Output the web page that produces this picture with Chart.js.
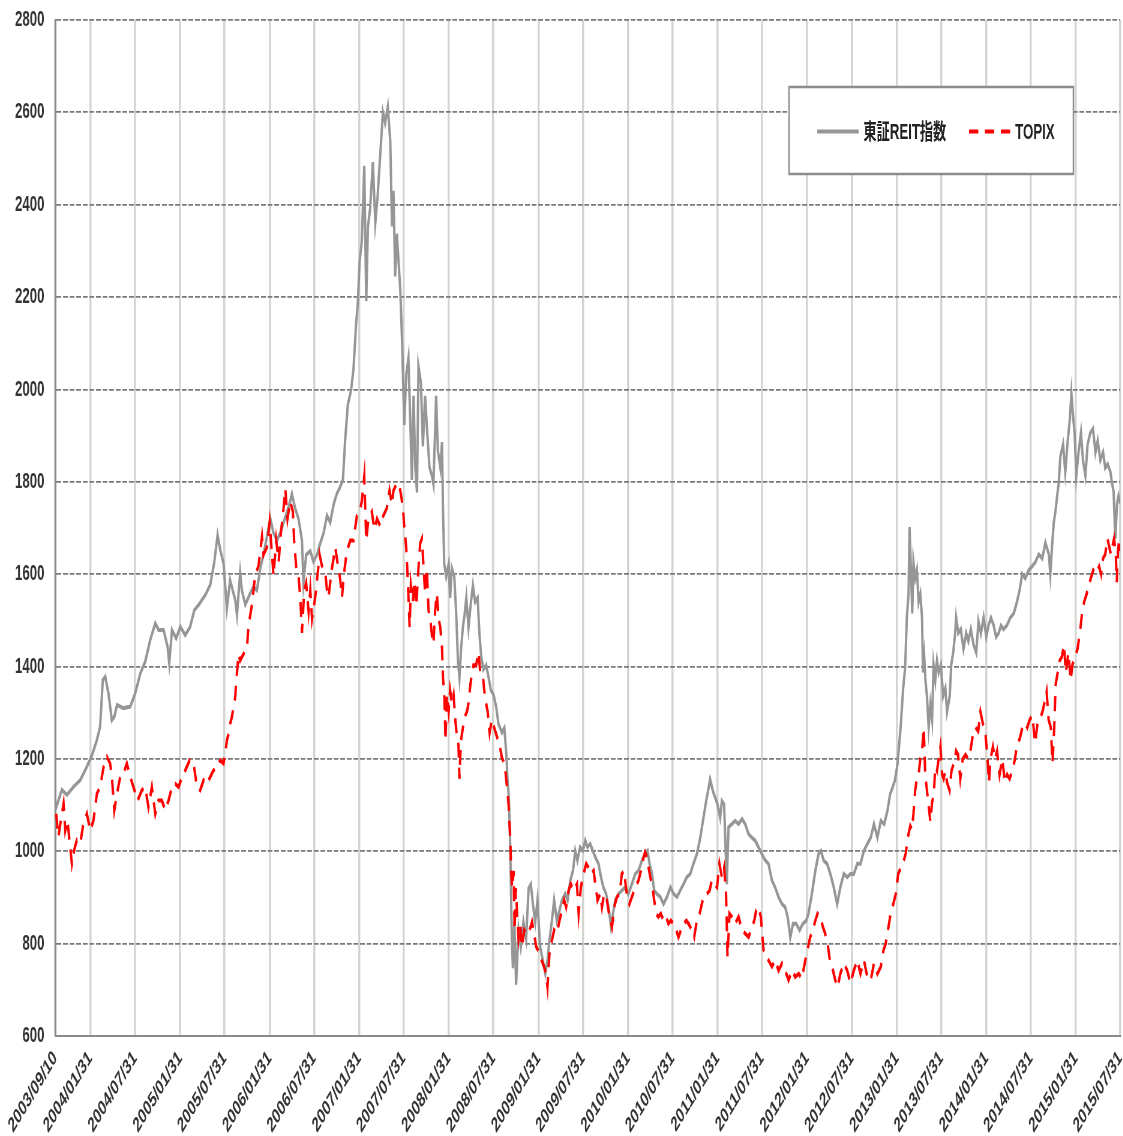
<!DOCTYPE html>
<html>
<head>
<meta charset="utf-8">
<style>
html,body{margin:0;padding:0;background:#fff;overflow:hidden;width:1123px;height:1136px;}
#wrap{position:absolute;left:0;top:0;width:1872px;height:1136px;transform:scaleX(0.6);transform-origin:0 0;}
</style>
<script src="https://cdn.jsdelivr.net/npm/chart.js@4.4.0/dist/chart.umd.min.js"></script>
</head>
<body>
<div id="wrap"><canvas id="c"></canvas></div>
<script>
// Tick labels (dates) on the x axis
const tickDates = ['2003/09/10','2004/01/31','2004/07/31','2005/01/31','2005/07/31','2006/01/31','2006/07/31','2007/01/31','2007/07/31','2008/01/31','2008/07/31','2009/01/31','2009/07/31','2010/01/31','2010/07/31','2011/01/31','2011/07/31','2012/01/31','2012/07/31','2013/01/31','2013/07/31','2014/01/31','2014/07/31','2015/01/31','2015/07/31'];

const seriesNames = ['東証REIT指数', 'TOPIX'];

// 東証REIT指数: days after 2003/09/10, index values
const reitDays = [0,27,48,75,102,129,150,170,183,194,204,217,231,241,252,278,306,326,347,367,387,408,421,442,458,465,476,493,510,530,550,567,584,612,632,648,662,673,686,700,713,734,741,754,
761,775,788,808,822,836,849,863,877,890,904,917,931,945,958,965,978,992,1006,1012,1023,1040,1053,1067,1080,1094,1108,1121,1135,1148,1162,1173,1182,1193,1206,1216,1227,1234,1241,1250,1260,1268,1275,1284,1295,1305,1314,1325,1336,1345,1356,1366,1373,1379,1386,1393,1407,1414,
1423,1431,1440,1447,1454,1461,1468,1475,1481,1491,1499,1508,1518,1526,1536,1542,1553,1560,1570,1577,1581,1586,1594,1604,1610,1617,1627,1635,1642,1648,1655,1662,1669,1676,1685,1695,1703,1712,1722,1730,1737,1746,1757,1767,1776,1787,1798,1807,1821,1831,1839,1844,1850,1855,1858,1862,1866,1872,1879,1889,1898,1909,1920,1930,1939,1948,1957,1966,
1977,1988,1998,2007,2015,2025,2034,2045,2056,2066,2079,2089,2100,2111,2120,2129,2140,2151,2161,2170,2181,2192,2202,2215,2225,2235,2246,2256,2266,2274,2283,2297,2310,2324,2337,2351,2365,2378,2392,2405,2415,2423,2433,2442,2453,2467,2480,2494,2508,2521,2535,2548,2562,2575,2589,2602,2616,2630,2643,2654,2664,2670,2681,2690,2700,2711,2718,2727,2738,2745,2759,2772,2786,2800,2813,2827,2840,2854,2867,
2881,2895,2908,2922,2935,2949,2963,2976,2986,2997,3008,3021,3035,3048,3062,3071,3085,3099,3112,3122,3133,3147,3160,3174,3188,3201,3215,3229,3242,3256,3270,3283,3297,3311,3325,3338,3352,3366,3380,3393,3404,3414,3423,3434,
3448,3457,3465,3472,3479,3483,3489,3494,3499,3506,3513,3520,3527,3534,3538,3543,3548,3554,3561,3568,3575,3581,3588,3595,3602,3611,3620,3629,3636,3647,3653,3661,3669,3673,3682,3692,3703,3714,3723,3733,3744,3755,3764,3774,3785,3796,3805,3815,3826,3836,3846,3856,3866,3880,3894,3908,3921,3932,3942,3955,3969,3983,3996,4010,4024,4037,4051,4057,4064,4071,4078,4085,4091,4098,4109,4118,4128,4136,4143,4150,4156,4163,4172,4182,4190,4200,4209,4220,4231,4241,4250,4261,4272,4281,4291,4302,4309,4315,4322,4329,4335,4342];
const reitValues = [1089,1133,1122,1140,1154,1183,1208,1241,1270,1371,1378,1342,1284,1291,1317,1310,1313,1342,1385,1411,1457,1494,1479,1479,1443,1407,1479,1461,1486,1468,1486,1522,1533,1555,1577,1624,1685,1652,1624,1526,1587,1544,1512,1603,
1565,1534,1550,1573,1565,1612,1642,1681,1720,1689,1673,1689,1712,1735,1758,1774,1743,1720,1673,1581,1642,1650,1627,1642,1666,1689,1727,1712,1751,1774,1789,1805,1890,1967,1998,2044,2144,2191,2276,2322,2484,2191,2353,2392,2492,2361,2415,2507,2600,2577,2612,2538,2353,2430,2245,2337,2214,2106,
1923,2032,2068,1941,1804,1986,1831,1777,2050,2014,1877,1986,1895,1831,1813,1795,1986,1868,1831,1886,1740,1622,1595,1622,1549,1613,1595,1513,1412,1376,1440,1485,1513,1549,1485,1540,1576,1540,1549,1467,1421,1394,1403,1376,1349,1339,1312,1276,1257,1267,1212,1157,1112,1011,920,802,747,847,711,829,793,847,811,920,929,884,847,893,
793,764,735,764,807,850,894,850,872,894,908,894,937,958,1001,980,1009,1001,1023,1009,1016,1001,987,973,944,922,908,879,836,865,894,908,915,922,908,929,951,958,980,994,1001,973,951,915,908,901,886,901,922,908,901,915,929,944,951,973,994,1030,1073,1109,1138,1156,1131,1117,1102,1073,1109,1102,929,1052,1059,1066,1059,1070,1059,1037,1030,1023,1009,
994,980,973,937,922,901,886,879,858,814,843,843,829,843,850,865,908,958,994,1001,980,973,951,922,886,922,951,944,951,951,973,973,1001,1016,1030,1059,1030,1066,1059,1088,1124,1138,1153,1188,
1277,1353,1396,1506,1557,1702,1609,1515,1626,1591,1609,1540,1557,1506,1387,1421,1370,1336,1268,1319,1285,1404,1370,1413,1387,1404,1336,1353,1302,1336,1404,1430,1472,1506,1472,1481,1438,1472,1455,1481,1447,1430,1498,1472,1506,1464,1489,1506,1489,1464,1472,1489,1481,1489,1506,1515,1540,1566,1600,1591,1609,1617,1626,1643,1634,1668,1643,1600,1660,1711,1736,1770,1796,1855,1881,1821,1889,1932,1991,1940,1906,1813,1864,1906,1847,1813,1881,1906,1915,1864,1889,1847,1864,1830,1838,1821,1796,1779,1677,1753,1770,1753];

// TOPIX: days after 2003/09/10, index values
const topixDays = [4,13,23,34,41,50,58,68,77,88,102,115,129,143,156,170,183,197,211,224,231,241,252,265,278,292,306,319,336,353,367,380,394,408,421,435,448,462,476,489,503,517,530,548,564,578,591,605,618,632,645,659,673,686,693,700,707,713,720,727,734,738,743,747,754,
782,788,802,815,829,843,849,863,874,884,890,901,911,920,931,938,947,958,969,974,983,992,999,1006,1015,1023,1033,1040,1047,1060,1069,1078,1087,1101,1108,1114,1128,1142,1148,1162,1169,1178,1189,1203,1216,1230,1241,1250,1260,1268,1277,1291,1301,1312,1325,1338,1352,1363,1373,1379,1393,1404,
1411,1418,1423,1431,1437,1445,1450,1458,1464,1472,1481,1488,1495,1502,1508,1515,1522,1529,1536,1542,1549,1556,1563,1570,1577,1581,1587,1591,1597,1604,1610,1617,1624,1631,1638,1644,1648,1654,1662,1672,1679,1685,1692,1699,1705,1716,1726,1733,1744,1753,1763,1771,1780,1790,1801,1812,1821,1828,1835,1842,1848,1855,1859,1863,1869,1873,1878,1883,1889,1896,1903,1912,1923,1934,1944,1953,1961,1970,
1983,1993,2001,2007,2015,2025,2034,2045,2056,2066,2075,2083,2093,2102,2113,2127,2134,2143,2154,2165,2174,2184,2195,2202,2211,2222,2229,2238,2249,2260,2270,2279,2290,2301,2310,2319,2330,2341,2351,2365,2378,2388,2399,2405,2412,2419,2426,2433,2442,2450,2459,2469,2480,2491,2500,2510,2521,2532,2541,2551,2562,2573,2582,2596,2605,2616,2627,
2643,2657,2668,2677,2686,2698,2708,2718,2727,2735,2741,2749,2759,2772,2786,2800,2813,2827,2840,2850,2858,2867,2877,2882,2888,2899,2908,2922,2935,2949,2963,2976,2990,3004,3017,3031,3044,3058,3067,3078,3089,3099,3108,3119,3130,3139,3149,3160,3171,3180,3190,3201,3215,3229,3242,3256,3270,3283,3297,3311,3325,3338,3352,3366,3377,3386,3395,3406,3417,3427,3437,
3459,3468,3476,3486,3493,3499,3506,3513,3520,3527,3534,3541,3547,3554,3561,3568,3575,3582,3588,3595,3602,3609,3616,3622,3629,3636,3646,3654,3664,3673,3681,3690,3700,3711,3722,3731,3741,3752,3763,3772,3782,3793,3800,3807,3813,3823,3831,3840,3850,3861,3872,3881,3891,3902,3913,3922,3932,3943,3954,3963,3973,3984,3995,4005,4014,4025,4036,4042,4050,4059,4066,4073,4079,4087,4095,4104,4113,4120,4131,4140,4147,4158,4168,4175,4181,4188,4195,4205,4213,4222,4232,4240,4249,4256,4264,4272,4281,4290,4297,4304,4310,4317,4324,4328,4333,4338,4342];
const topixValues = [1081,1031,1067,1103,1045,1067,1024,973,1002,1024,1017,1060,1081,1045,1067,1125,1139,1182,1204,1190,1161,1089,1125,1161,1168,1190,1161,1139,1110,1132,1139,1096,1139,1081,1110,1110,1089,1110,1139,1146,1139,1161,1175,1197,1190,1139,1132,1154,1146,1161,1175,1182,1197,1190,1211,1240,1254,1276,1290,1312,1334,1370,1398,1427,1413,
1442,1488,1534,1596,1619,1681,1642,1658,1712,1642,1596,1673,1627,1689,1743,1785,1720,1758,1735,1673,1612,1596,1550,1473,1565,1581,1519,1565,1503,1550,1596,1642,1619,1604,1565,1550,1612,1658,1635,1588,1550,1604,1650,1673,1673,1727,1735,1758,1812,1673,1720,1735,1697,1720,1704,1727,1743,1781,1751,1781,1797,1789,
1768,1740,1704,1658,1595,1485,1576,1540,1585,1531,1613,1667,1677,1613,1558,1613,1522,1503,1467,1449,1522,1558,1503,1485,1440,1376,1330,1239,1339,1303,1348,1321,1339,1285,1248,1230,1157,1239,1267,1294,1303,1321,1358,1385,1403,1403,1431,1385,1376,1330,1303,1257,1285,1267,1248,1230,1203,1194,1175,1139,1103,1030,957,920,957,829,920,866,811,838,793,829,820,829,847,820,793,784,
764,750,735,706,778,807,829,822,850,872,894,879,915,929,915,929,865,922,951,973,965,951,958,929,894,908,879,908,894,858,836,879,901,908,951,958,908,886,901,922,937,958,987,998,987,965,944,929,894,865,858,865,850,858,843,850,843,829,814,829,843,850,843,829,814,850,865,
901,908,915,937,929,922,973,944,965,908,771,865,858,843,858,829,822,814,836,850,872,879,858,822,786,771,764,750,764,742,757,742,721,742,728,735,724,764,786,814,829,850,865,858,836,822,800,757,742,721,706,735,757,742,714,742,764,735,764,728,721,757,735,750,786,800,829,865,886,908,951,
979,996,1030,1055,1047,1081,1132,1157,1166,1200,1217,1268,1166,1132,1098,1064,1106,1123,1183,1174,1200,1226,1166,1157,1174,1149,1132,1174,1191,1217,1209,1157,1200,1209,1200,1217,1251,1268,1260,1302,1277,1251,1209,1149,1200,1226,1200,1217,1166,1200,1149,1166,1157,1174,1200,1234,1243,1268,1277,1268,1285,1294,1234,1277,1285,1302,1328,1345,1285,1268,1191,1268,1362,1387,1413,1421,1447,1387,1430,1370,1404,1421,1438,1464,1489,1523,1540,1557,1574,1591,1609,1617,1609,1617,1600,1634,1643,1677,1660,1643,1660,1677,1643,1583,1651,1677,1651];

function dayOf(s) {
  const p = s.split('/').map(Number);
  const b = tickDates[0].split('/').map(Number);
  return Math.round((Date.UTC(p[0], p[1]-1, p[2]) - Date.UTC(b[0], b[1]-1, b[2])) / 86400000);
}
const tickDays = tickDates.map(dayOf);

const FONT = "'Liberation Sans', Arial, 'Noto Sans CJK JP', sans-serif";
const REIT_COLOR = '#969696';
const TOPIX_COLOR = '#ff0000';
const TOPIX_DASH = [15, 10];

const legendPlugin = {
  id: 'boxLegend',
  afterDraw(chart) {
    const ctx = chart.ctx;
    const ds = chart.data.datasets;
    ctx.save();
    ctx.fillStyle = '#ffffff';
    ctx.fillRect(1315, 87, 474, 87);
    ctx.strokeStyle = '#8c8c8c';
    ctx.lineWidth = 2.5;
    ctx.strokeRect(1315, 87, 474, 87);
    const yMid = 131.5;
    ctx.beginPath();
    ctx.strokeStyle = ds[1].borderColor;
    ctx.lineWidth = 4;
    ctx.setLineDash([]);
    ctx.moveTo(1362, yMid); ctx.lineTo(1431, yMid); ctx.stroke();
    ctx.fillStyle = '#222';
    ctx.font = 'bold 22px ' + FONT;
    ctx.textBaseline = 'middle';
    ctx.textAlign = 'left';
    ctx.fillText(ds[1].label, 1439, yMid + 1);
    ctx.beginPath();
    ctx.strokeStyle = ds[0].borderColor;
    ctx.lineWidth = 4;
    ctx.setLineDash([15.5, 11]);
    ctx.moveTo(1615, yMid); ctx.lineTo(1684, yMid); ctx.stroke();
    ctx.setLineDash([]);
    ctx.fillText(ds[0].label, 1692, yMid + 1);
    ctx.restore();
  }
};

new Chart(document.getElementById('c'), {
  type: 'line',
  data: {
    datasets: [
      {
        label: seriesNames[1],
        data: topixDays.map((d, i) => ({x: d, y: topixValues[i]})),
        borderColor: TOPIX_COLOR,
        borderWidth: 4,
        borderDash: TOPIX_DASH,
        pointRadius: 0,
        tension: 0,
        fill: false,
        order: 1
      },
      {
        label: seriesNames[0],
        data: reitDays.map((d, i) => ({x: d, y: reitValues[i]})),
        borderColor: REIT_COLOR,
        borderWidth: 4,
        pointRadius: 0,
        tension: 0,
        fill: false,
        order: 2
      }
    ]
  },
  options: {
    responsive: true,
    maintainAspectRatio: false,
    animation: false,
    events: [],
    layout: { padding: { left: 0, right: 5, top: 20, bottom: 0 } },
    plugins: { legend: { display: false }, tooltip: { enabled: false } },
    scales: {
      x: {
        type: 'linear',
        min: tickDays[0],
        max: tickDays[tickDays.length - 1],
        afterBuildTicks: (s) => { s.ticks = tickDays.map(v => ({value: v})); },
        ticks: {
          autoSkip: false,
          maxRotation: 45,
          minRotation: 45,
          padding: 10,
          color: '#333',
          font: { family: FONT, size: 21, weight: 'bold' },
          callback: (v, i) => tickDates[i]
        },
        grid: { color: '#d5d5d0', lineWidth: 3.5, drawTicks: false },
        border: { display: true, color: '#8a8a8a', width: 2 },
        afterFit: (s) => { s.height = 100; s.paddingLeft = 0; s.paddingRight = 0; }
      },
      y: {
        min: 600,
        max: 2800,
        ticks: {
          stepSize: 200,
          padding: 18,
          color: '#333',
          font: { family: FONT, size: 22, weight: 'bold' },
          callback: (v) => String(v)
        },
        grid: { color: '#7a7a7a', lineWidth: 1.75, drawTicks: false },
        border: { display: true, color: '#8a8a8a', width: 3, dash: [8, 3] },
        afterFit: (s) => { s.width = 92; s.paddingTop = 0; s.paddingBottom = 0; }
      }
    }
  },
  plugins: [legendPlugin]
});
</script>
</body>
</html>
